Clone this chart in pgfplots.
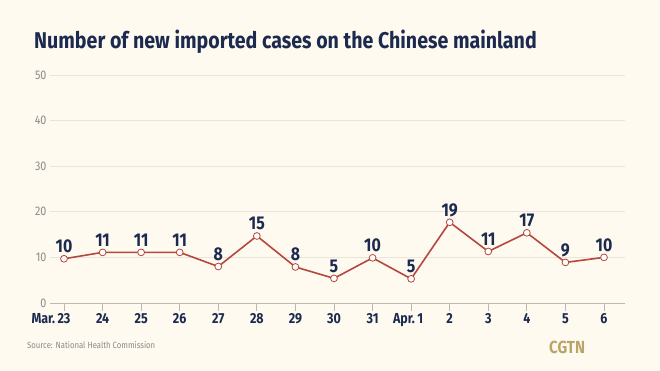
\documentclass[border=0pt]{standalone}
\usepackage{fontspec}
\usepackage{pgfplots}
\pgfplotsset{compat=1.18}
\setmainfont{Fira Sans}
\newfontfamily\condfont[FakeStretch=0.86]{Fira Sans}
\definecolor{bgc}{HTML}{FEFAF0}
\definecolor{navy}{HTML}{1B2A4E}
\definecolor{linec}{HTML}{B5473D}
\definecolor{gridc}{HTML}{E9E5DA}
\definecolor{axisc}{HTML}{B8B8B8}
\definecolor{graytext}{HTML}{8A8A8A}
\definecolor{cgtn}{HTML}{B9A56A}
\pgfplotstableread{
x y lab
0 9.7 10
1 11.1 11
2 11.1 11
3 11.1 11
4 8.0 8
5 14.7 15
6 7.9 8
7 5.4 5
8 9.9 10
9 5.3 5
10 17.7 19
11 11.3 11
12 15.4 17
13 8.9 9
14 10.0 10
}\datatable
\begin{document}
\begin{tikzpicture}[x=1pt,y=1pt]
\fill[bgc] (0,0) rectangle (660,371);
\useasboundingbox (0,0) rectangle (660,371);
\node[anchor=base west, inner sep=0, text=navy, font=\condfont\bfseries\fontsize{22.8}{24}\selectfont] at (34,322) {Number of new imported cases on the Chinese mainland};
\begin{axis}[
  at={(50pt,68pt)}, anchor=south west,
  scale only axis, width=575pt, height=228pt,
  xmin=-0.363, xmax=14.545, ymin=0, ymax=50,
  axis x line=bottom, axis y line=left,
  x axis line style={draw=axisc, line width=0.8pt, -},
  y axis line style={draw=none},
  xtick={0,...,14},
  xticklabels={\llap{Mar.\,}23,24,25,26,27,28,29,30,31,Apr.\,1\hspace*{6pt},2,3,4,5,6},
  ytick={0,10,...,50},
  ymajorgrids, grid style={draw=gridc, line width=0.7pt},
  tick align=outside,
  major tick length=8pt,
  x tick style={draw=axisc, line width=0.8pt},
  y tick style={draw=none},
  x tick label style={font=\condfont\bfseries\fontsize{14.5}{16}\selectfont, text=navy, yshift=1pt},
  y tick label style={font=\condfont\fontsize{12.5}{14}\selectfont, text=graytext},
  /pgf/number format/assume math mode=true,
  yticklabel style={xshift=8pt},
  clip=false,
  nodes near coords,
  point meta=explicit symbolic,
  nodes near coords style={font=\condfont\bfseries\fontsize{18.5}{20}\selectfont, text=navy, anchor=south, yshift=2pt},
]
\addplot[color=linec, line width=1.6pt, mark=*, mark size=3.4pt,
  mark options={fill=white, draw=linec, line width=0.8pt}]
  table[x=x, y=y, meta=lab] {\datatable};
\end{axis}
\node[anchor=west, inner sep=0, text=graytext, font=\condfont\fontsize{9}{10}\selectfont] at (27,26) {Source: National Health Commission};
\node[anchor=west, inner sep=0, text=cgtn, font=\condfont\bfseries\fontsize{17.5}{19}\selectfont] at (549,24) {CGTN};
\end{tikzpicture}
\end{document}
